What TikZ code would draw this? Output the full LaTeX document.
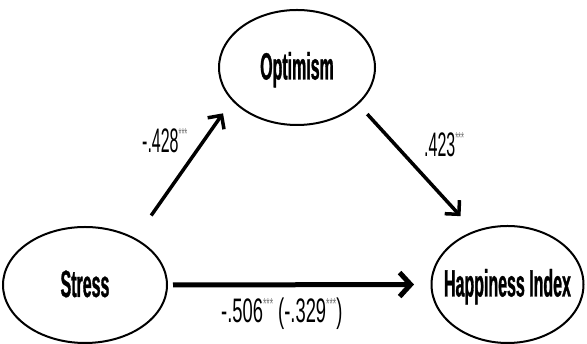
\documentclass[tikz,border=0pt]{standalone}
\usepackage{fontspec}
\usetikzlibrary{shapes.geometric,arrows.meta}
\newfontfamily\nodefont[FakeStretch=0.42,FakeBold=0.8]{Liberation Sans}
\newfontfamily\labfont[FakeStretch=0.47]{Liberation Sans}
\newfontfamily\labfontb[FakeStretch=0.54]{Liberation Sans}
\newcommand\mystars{\raisebox{13pt}{\fontsize{16}{16}\selectfont\color{black!55}***}}
\begin{document}
\begin{tikzpicture}[x=1pt,y=1pt,
  var/.style={ellipse, draw, line width=2pt, inner sep=0pt,
    font=\nodefont\bfseries\fontsize{38}{38}\selectfont, text height=24pt, text depth=0pt},
  conn/.style={line width=3.5pt, -{Straight Barb[length=10pt,width=20pt]}},
  lab/.style={font=\labfont\fontsize{34}{34}\selectfont, inner sep=0pt},
  labb/.style={font=\labfontb\fontsize{34}{34}\selectfont, inner sep=0pt}]
\useasboundingbox (0,0) rectangle (587,344);
\node[var, minimum width=164pt, minimum height=116pt] (stress) at (85,59) {\makebox[0pt]{Stress}};
\node[var, minimum width=156pt, minimum height=115pt] (opt) at (297,276.5) {\makebox[0pt]{Optimism}};
\node[var, minimum width=152pt, minimum height=117pt] (hap) at (507.5,59.5) {\makebox[0pt]{Happiness Index}};
\draw[conn, shorten <=27.6pt, shorten >=15.5pt] (stress.43.6) -- (opt.207.2);
\draw[conn, shorten <=13.2pt, shorten >=20pt] (opt.329.7) -- (hap.122.1);
\draw[conn, line width=5pt, -{Straight Barb[length=11pt,width=24pt]}, shorten <=5pt, shorten >=16.5pt] (stress.east) -- (hap.west);
\node[lab, anchor=base west] (l1) at (142,191) {-.428\mystars};
\node[lab, anchor=base west] (l2) at (424,187) {.423\mystars};
\node[labb, anchor=base west] (l3) at (221,21) {-.506\mystars{} (-.329\mystars)};
\end{tikzpicture}
\end{document}
